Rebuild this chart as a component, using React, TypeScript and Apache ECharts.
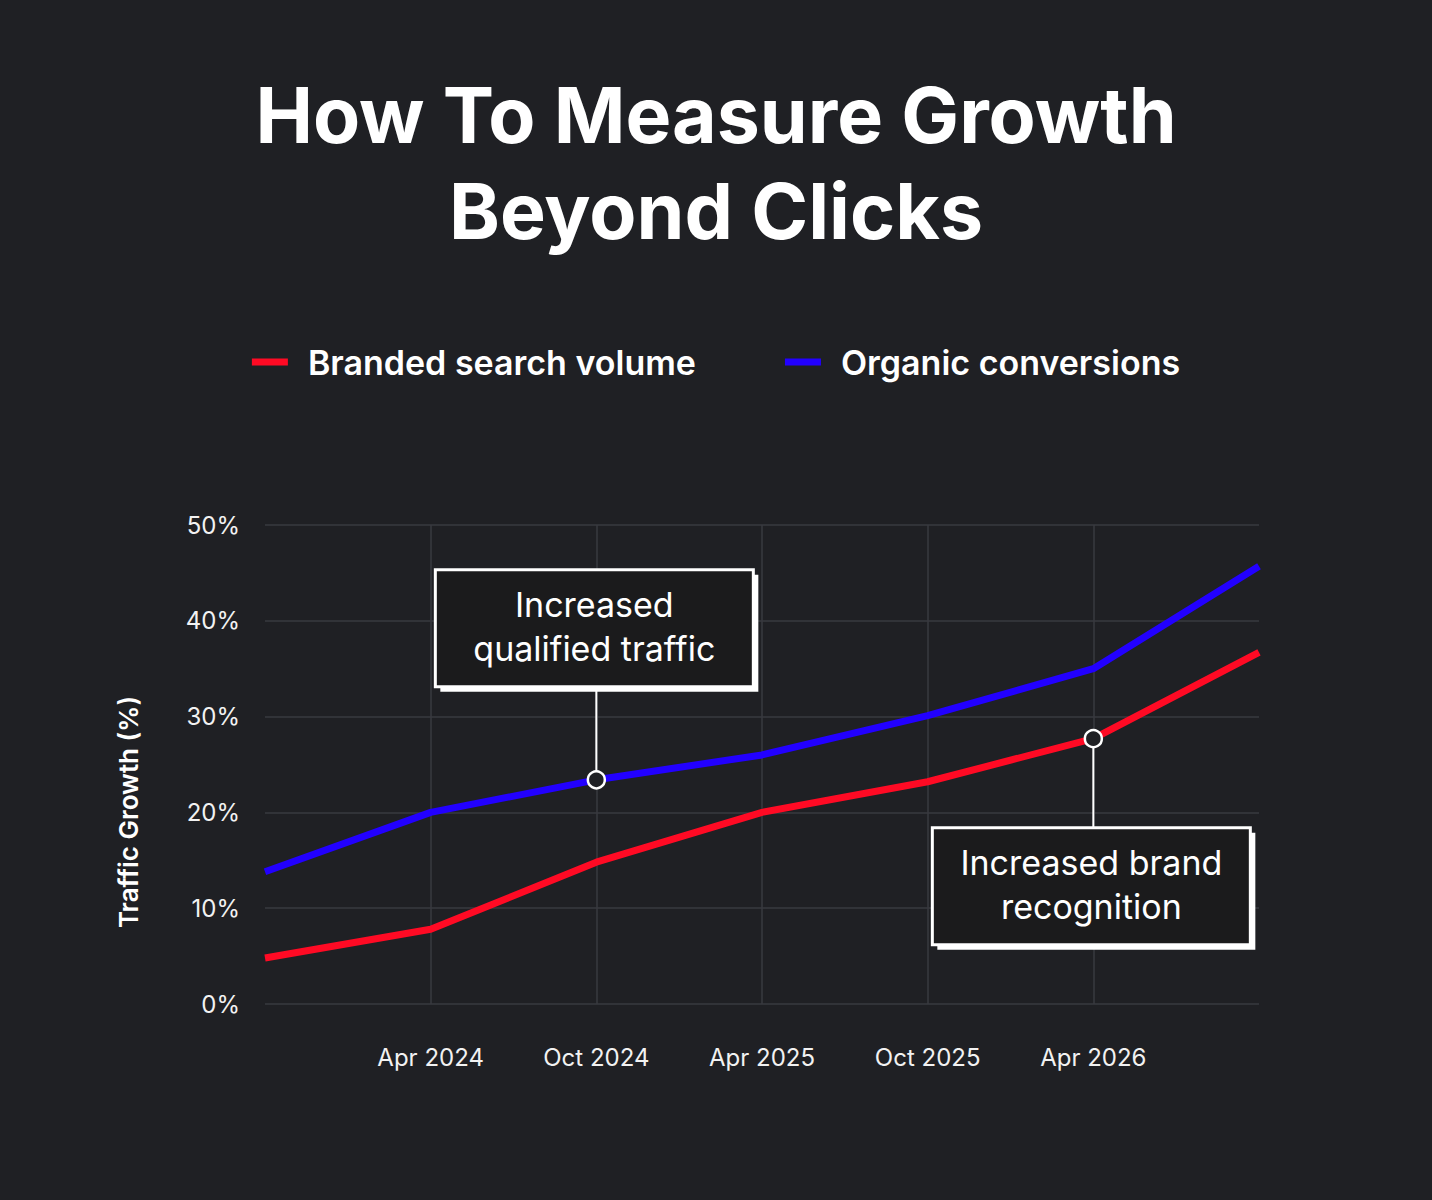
import { useRef, useEffect } from "react";
import * as echarts from "echarts";

const months = ["Oct 2023", "Apr 2024", "Oct 2024", "Apr 2025", "Oct 2025", "Apr 2026", "Oct 2026"];
const brandedSearch = [4.8, 7.8, 14.8, 20.0, 23.2, 27.7, 36.7];
const organicConversions = [13.8, 20.0, 23.4, 26.0, 30.1, 35.0, 45.7];
const yTicks = [0, 10, 20, 30, 40, 50];

const BG = "#1f2024";
const FONT = "Inter, 'Noto Sans', sans-serif";

function App() {
    const chartRef = useRef<HTMLDivElement | null>(null);

    useEffect(() => {
        if (!chartRef.current) return;
        const chart = echarts.init(chartRef.current, null, { renderer: "svg" });

        const markerItem = (v: number) => ({
            value: v,
            symbol: "circle",
            symbolSize: 17,
            itemStyle: { color: BG, borderColor: "#ffffff", borderWidth: 2.5 },
        });

        chart.setOption({
            animation: false,
            backgroundColor: BG,
            textStyle: { fontFamily: FONT },
            title: {
                text: "How To Measure Growth\nBeyond Clicks",
                left: "center",
                top: 62,
                textStyle: {
                    color: "#ffffff",
                    fontSize: 77,
                    fontWeight: 700,
                    lineHeight: 96,
                    fontFamily: FONT,
                },
            },
            legend: {
                top: 340,
                left: "center",
                icon: "rect",
                itemWidth: 36,
                itemHeight: 7,
                itemGap: 89,
                textStyle: {
                    color: "#ffffff",
                    fontSize: 34,
                    fontWeight: 600,
                    padding: [0, 0, 0, 15],
                    fontFamily: FONT,
                },
                data: ["Branded search volume", "Organic conversions"],
            },
            grid: { left: 265, right: 173, top: 525, bottom: 196, containLabel: false },
            xAxis: {
                type: "category",
                boundaryGap: false,
                data: months,
                axisLine: { show: false },
                axisTick: { show: false },
                axisLabel: {
                    color: "#f2f2f2",
                    fontSize: 24,
                    margin: 41,
                    interval: 0,
                    formatter: (v: string, i: number) => (i === 0 || i === months.length - 1 ? "" : v),
                },
                splitLine: {
                    show: true,
                    interval: (i: number) => i > 0 && i < months.length - 1,
                    lineStyle: { color: "#393a3f", width: 1.5 },
                },
            },
            yAxis: {
                type: "value",
                min: yTicks[0],
                max: yTicks[yTicks.length - 1],
                interval: 10,
                axisLine: { show: false },
                axisTick: { show: false },
                axisLabel: {
                    color: "#f2f2f2",
                    fontSize: 24,
                    margin: 25,
                    formatter: "{value}%",
                },
                splitLine: { lineStyle: { color: "#393a3f", width: 1.5 } },
            },
            series: [
                {
                    name: "Branded search volume",
                    type: "line",
                    symbol: "none",
                    color: "#ff0a24",
                    lineStyle: { width: 7, color: "#ff0a24" },
                    data: brandedSearch.map((v, i) => (i === 5 ? markerItem(v) : v)),
                    z: 3,
                },
                {
                    name: "Organic conversions",
                    type: "line",
                    symbol: "none",
                    color: "#2200ff",
                    lineStyle: { width: 7, color: "#2200ff" },
                    data: organicConversions.map((v, i) => (i === 2 ? markerItem(v) : v)),
                    z: 3,
                },
            ],
        });

        // annotation boxes anchored to the marked points
        const p1 = chart.convertToPixel({ seriesIndex: 1 }, [2, organicConversions[2]]) as number[];
        const p2 = chart.convertToPixel({ seriesIndex: 0 }, [5, brandedSearch[5]]) as number[];
        const boxW = 318;
        const boxH = 117;

        const box = (cx: number, top: number, lines: string) => {
            const left = cx - boxW / 2;
            return [
                {
                    type: "rect",
                    shape: { x: left + 5, y: top + 5, width: boxW, height: boxH },
                    style: { fill: "#ffffff" },
                    z: 10,
                },
                {
                    type: "rect",
                    shape: { x: left, y: top, width: boxW, height: boxH },
                    style: { fill: "#1b1b1c", stroke: "#ffffff", lineWidth: 3 },
                    z: 11,
                },
                {
                    type: "text",
                    x: cx,
                    y: top + boxH / 2 - 2,
                    style: {
                        text: lines,
                        fill: "#ffffff",
                        fontSize: 34,
                        lineHeight: 44,
                        fontFamily: FONT,
                        align: "center",
                        verticalAlign: "middle",
                    },
                    z: 12,
                },
            ];
        };

        const top1 = p1[1] - 93 - boxH;
        const top2 = p2[1] + 89;

        chart.setOption({
            graphic: [
                {
                    type: "text",
                    x: 128,
                    y: 812,
                    rotation: Math.PI / 2,
                    style: {
                        text: "Traffic Growth (%)",
                        fill: "#ffffff",
                        fontSize: 26,
                        fontWeight: 600,
                        fontFamily: FONT,
                        align: "center",
                        verticalAlign: "middle",
                    },
                },
                {
                    type: "line",
                    shape: { x1: p1[0], y1: top1 + boxH, x2: p1[0], y2: p1[1] - 8 },
                    style: { stroke: "#ffffff", lineWidth: 2 },
                    z: 9,
                },
                ...box(p1[0] - 2, top1, "Increased\nqualified traffic"),
                {
                    type: "line",
                    shape: { x1: p2[0], y1: p2[1] + 8, x2: p2[0], y2: top2 },
                    style: { stroke: "#ffffff", lineWidth: 2 },
                    z: 9,
                },
                ...box(p2[0] - 2, top2, "Increased brand\nrecognition"),
            ],
        });

        return () => {
            chart.dispose();
        };
    }, []);

    return (
        <div
            ref={chartRef}
            style={{ position: "absolute", left: 0, top: 0, width: "1432px", height: "1200px" }}
        />
    );
}

export default App;
